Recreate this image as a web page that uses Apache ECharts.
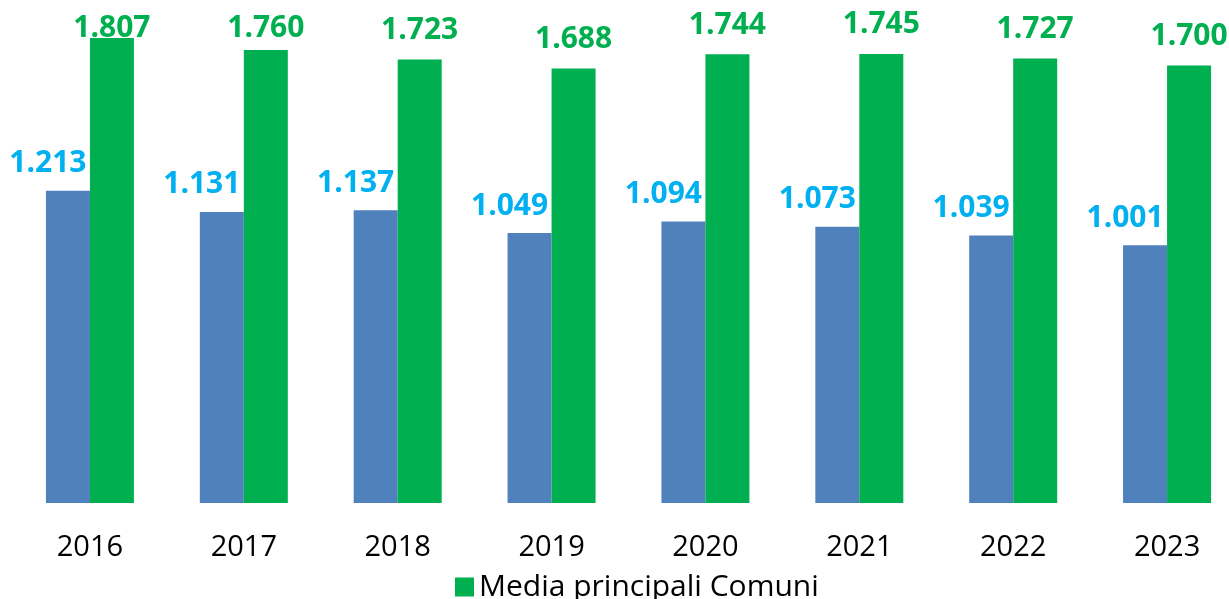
<!DOCTYPE html>
<html>
<head>
<meta charset="utf-8">
<script src="https://cdn.jsdelivr.net/npm/echarts@6/dist/echarts.min.js"></script>
<style>
	html, body { margin: 0; padding: 0; background: #fff; }
	#chart { width: 1229px; height: 599px; }
</style>
</head>
<body>
<div id="chart"></div>
<script>
	var years = ['2016', '2017', '2018', '2019', '2020', '2021', '2022', '2023'];
	var comuneValues = [1.213, 1.131, 1.137, 1.049, 1.094, 1.073, 1.039, 1.001];
	var mediaValues = [1.807, 1.760, 1.723, 1.688, 1.744, 1.745, 1.727, 1.700];

	var fmt = function(p) {
		return p.value.toFixed(3);
	};

	// le prime due etichette verdi stanno più vicine alla barra (limite in alto)
	var mediaData = mediaValues.map(function(v, i) {
		if (i === 0) return { value: v, label: { distance: -6 } };
		if (i === 1) return { value: v, label: { distance: 7 } };
		return v;
	});

	var chart = echarts.init(document.getElementById('chart'));
	var option = {
		animation: false,
		textStyle: {
			fontFamily: 'Open Sans'
		},
		legend: {
			data: ['Media principali Comuni'],
			left: 450,
			top: 567,
			icon: 'rect',
			itemWidth: 19,
			itemHeight: 19,
			textStyle: {
				fontSize: 30,
				color: '#000'
			}
		},
		grid: {
			left: 13,
			width: 1231,
			top: 14,
			bottom: 96,
			outerBoundsMode: 'none'
		},
		xAxis: {
			type: 'category',
			data: years,
			axisLine: { show: false },
			axisTick: { show: false },
			axisLabel: {
				color: '#000',
				fontSize: 29,
				margin: 30
			}
		},
		yAxis: {
			type: 'value',
			min: 0,
			max: 1.9,
			show: false,
			splitLine: { show: false }
		},
		series: [{
				name: 'Comune',
				type: 'bar',
				barWidth: 44,
				barGap: '0%',
				data: comuneValues,
				itemStyle: { color: '#4f81bd' },
				label: {
					show: true,
					position: 'top',
					distance: 12,
					offset: [-20, 0],
					color: '#00b0f0',
					fontWeight: 'bold',
					fontSize: 30,
					formatter: fmt
				}
			},
			{
				name: 'Media principali Comuni',
				type: 'bar',
				barWidth: 44,
				barGap: '0%',
				data: mediaData,
				itemStyle: { color: '#00b050' },
				label: {
					show: true,
					position: 'top',
					distance: 14,
					color: '#00b050',
					fontWeight: 'bold',
					fontSize: 30,
					formatter: fmt
				}
			}
		]
	};
	chart.setOption(option);
</script>
</body>
</html>
